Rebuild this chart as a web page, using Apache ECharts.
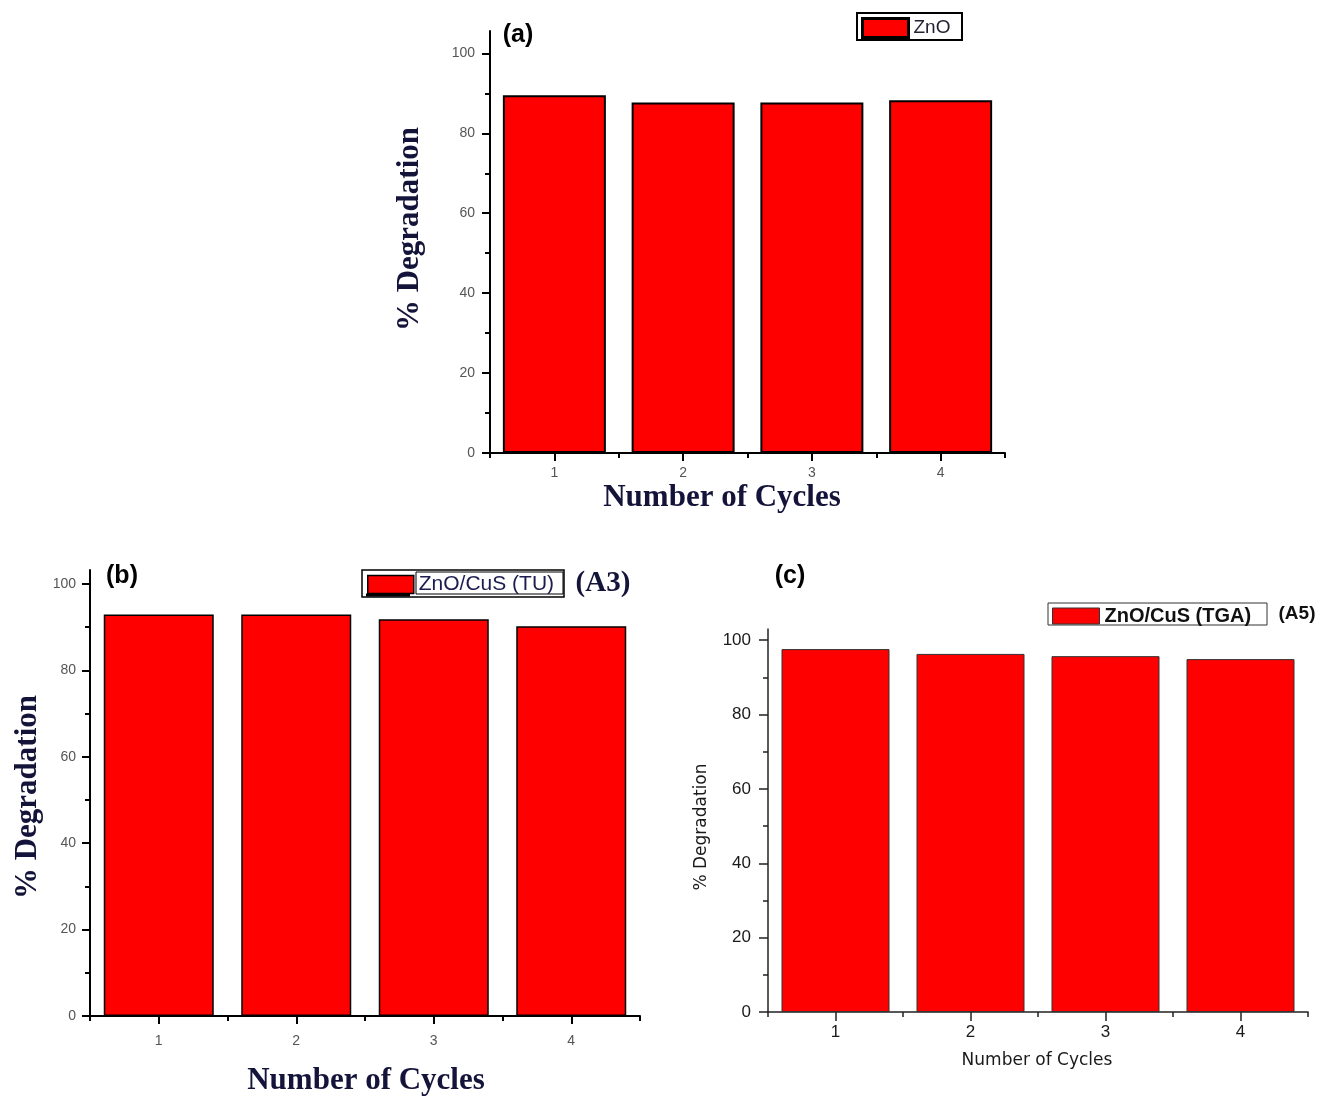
<!DOCTYPE html>
<html>
<head>
<meta charset="utf-8">
<script src="https://cdn.jsdelivr.net/npm/echarts@6/dist/echarts.min.js"></script>
<style>
  html, body { margin: 0; padding: 0; background: #ffffff; }
  #chart { width: 1318px; height: 1096px; }
</style>
</head>
<body>
<div id="chart"></div>
<script>
// Photocatalyst reuse: % degradation over four cycles
const cycles = ['1', '2', '3', '4'];
const znoDegradation = [89.5, 87.7, 87.7, 88.3];
const tuDegradation = [92.9, 92.9, 91.8, 90.2];
const tgaDegradation = [97.6, 96.3, 95.7, 94.9];
const majorTicks = [0, 20, 40, 60, 80, 100];
const minorTicks = [10, 30, 50, 70, 90];

// Per-panel layout and styling
const panels = [
  {
    name: 'ZnO', values: znoDegradation,
    grid: { left: 490, top: 31, width: 515, height: 422 }, max: 105.6,
    axisColor: '#000', axisWidth: 2, majorLen: 8, minorLen: 5,
    tickFont: { fontSize: 14, color: '#555', fontFamily: 'Liberation Sans' },
    xMargin: 13, yMargin: 15,
    barBorder: '#000', barBorderWidth: 2
  },
  {
    name: 'ZnO/CuS (TU)', values: tuDegradation,
    grid: { left: 90, top: 570, width: 550, height: 446 }, max: 103.2,
    axisColor: '#000', axisWidth: 2, majorLen: 8, minorLen: 5,
    tickFont: { fontSize: 14, color: '#555', fontFamily: 'Liberation Sans' },
    xMargin: 18, yMargin: 14,
    barBorder: '#000', barBorderWidth: 1.5
  },
  {
    name: 'ZnO/CuS (TGA)', values: tgaDegradation,
    grid: { left: 768, top: 629, width: 540, height: 383 }, max: 103,
    axisColor: '#222', axisWidth: 1.5, majorLen: 9, minorLen: 5,
    tickFont: { fontSize: 17, color: '#1a1a1a', fontFamily: 'Liberation Sans' },
    xMargin: 12, yMargin: 17,
    barBorder: '#333', barBorderWidth: 1
  }
];

const grids = [], xAxes = [], yAxes = [], series = [];
panels.forEach((p, i) => {
  grids.push(Object.assign({ containLabel: false }, p.grid));
  const line = { color: p.axisColor, width: p.axisWidth };
  // labelled axes with major ticks
  xAxes.push({
    type: 'category', gridIndex: i, data: cycles, position: 'bottom', boundaryGap: true,
    axisLine: { show: true, lineStyle: line },
    axisTick: { show: true, alignWithLabel: true, interval: 0, length: p.majorLen, lineStyle: line },
    axisLabel: Object.assign({ margin: p.xMargin, interval: 0 }, p.tickFont),
    splitLine: { show: false }
  });
  // minor ticks on category boundaries
  xAxes.push({
    type: 'category', gridIndex: i, data: cycles, position: 'bottom', boundaryGap: true,
    axisLine: { show: false },
    axisTick: { show: true, alignWithLabel: false, interval: 0, length: p.minorLen, lineStyle: line },
    axisLabel: { show: false },
    splitLine: { show: false }
  });
  yAxes.push({
    type: 'value', gridIndex: i, min: 0, max: p.max, position: 'left',
    axisLine: { show: true, lineStyle: line },
    axisTick: { show: true, customValues: majorTicks, length: p.majorLen, lineStyle: line },
    axisLabel: Object.assign({ customValues: majorTicks, margin: p.yMargin }, p.tickFont),
    splitLine: { show: false }
  });
  yAxes.push({
    type: 'value', gridIndex: i, min: 0, max: p.max, position: 'left',
    axisLine: { show: false },
    axisTick: { show: true, customValues: minorTicks, length: p.minorLen, lineStyle: line },
    axisLabel: { show: false },
    splitLine: { show: false }
  });
  series.push({
    type: 'bar', name: p.name, data: p.values,
    xAxisIndex: 2 * i, yAxisIndex: 2 * i,
    barWidth: '80%',
    itemStyle: { color: '#ff0000', borderColor: p.barBorder, borderWidth: p.barBorderWidth },
    emphasis: { disabled: true },
    animation: false
  });
});

const serifTitle = 'bold 31px "Liberation Serif", "Times New Roman", serif';
const sansTitle = '17px "DejaVu Sans", sans-serif';
const navy = '#14143a';

function label(text, x, y, font, fill, rotate) {
  return {
    type: 'text', x: x, y: y, rotation: rotate ? Math.PI / 2 : 0,
    style: { text: text, font: font, fill: fill, align: 'center', verticalAlign: 'middle' },
    silent: true
  };
}
function frame(x, y, w, h, stroke, lw) {
  return {
    type: 'rect', shape: { x: x, y: y, width: w, height: h },
    style: { fill: 'none', stroke: stroke, lineWidth: lw }, silent: true
  };
}

const graphics = [
  // panel tags
  label('(a)', 518, 35, 'bold 25px "Liberation Sans", Arial, sans-serif', '#000'),
  label('(b)', 122, 576, 'bold 25px "Liberation Sans", Arial, sans-serif', '#000'),
  label('(c)', 790, 576, 'bold 25px "Liberation Sans", Arial, sans-serif', '#000'),
  // axis titles
  label('% Degradation', 410, 229, serifTitle, navy, true),
  label('Number of Cycles', 722, 498, serifTitle, navy),
  label('% Degradation', 28, 797, serifTitle, navy, true),
  label('Number of Cycles', 366, 1081, serifTitle, navy),
  label('% Degradation', 702, 827, sansTitle, '#1a1a1a', true),
  label('Number of Cycles', 1037, 1061, sansTitle, '#1a1a1a'),
  // sample codes beside legends
  label('(A3)', 603, 584, 'bold 29px "Liberation Serif", "Times New Roman", serif', navy),
  label('(A5)', 1297, 614, 'bold 19px "Liberation Sans", Arial, sans-serif', '#111'),
  // legend frames
  frame(857, 13, 105, 27, '#000', 2),
  frame(362, 570, 202, 27, '#000', 1.5),
  frame(416, 572, 147, 22, '#000', 1),
  { type: 'line', shape: { x1: 366, y1: 595, x2: 410, y2: 595 }, style: { stroke: '#000', lineWidth: 3 }, silent: true },
  frame(1048, 603, 219, 22, '#333', 1)
];

const legendBase = { orient: 'horizontal', padding: 0, icon: 'rect', selectedMode: false, itemGap: 0 };
const chart = echarts.init(document.getElementById('chart'), null, { renderer: 'canvas' });
chart.setOption({
  backgroundColor: '#ffffff',
  animation: false,
  grid: grids,
  xAxis: xAxes,
  yAxis: yAxes,
  series: series,
  legend: [
    Object.assign({}, legendBase, {
      data: ['ZnO'], left: 861, top: 17, itemWidth: 46, itemHeight: 19,
      itemStyle: { borderColor: '#000', borderWidth: 3 },
      textStyle: { fontSize: 19, color: '#223', fontFamily: 'Liberation Sans' }
    }),
    Object.assign({}, legendBase, {
      data: ['ZnO/CuS (TU)'], left: 367, top: 574, itemWidth: 46, itemHeight: 18,
      itemStyle: { borderColor: '#000', borderWidth: 1.5 },
      textStyle: { fontSize: 21, color: '#1c1c50', fontFamily: 'Liberation Sans' }
    }),
    Object.assign({}, legendBase, {
      data: ['ZnO/CuS (TGA)'], left: 1052, top: 606, itemWidth: 47, itemHeight: 16,
      itemStyle: { borderColor: '#333', borderWidth: 1 },
      textStyle: { fontSize: 20, fontWeight: 'bold', color: '#111', fontFamily: 'Liberation Sans' }
    })
  ],
  graphic: graphics
});
</script>
</body>
</html>
